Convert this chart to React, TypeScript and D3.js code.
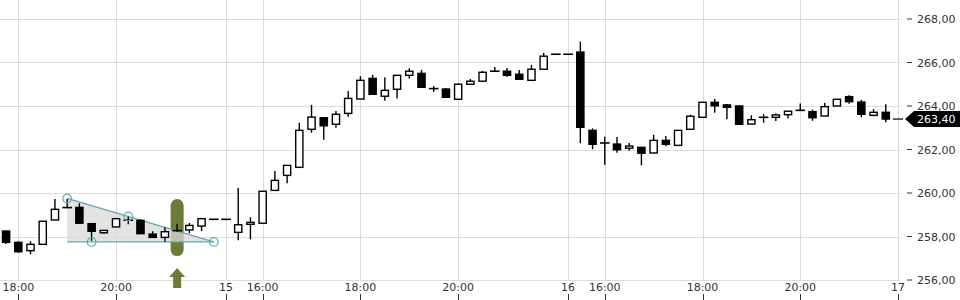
import React from "react";
import * as d3 from "d3";

// ---- data ----
const opens = [258.25,257.73,257.35,257.64,258.76,259.36,259.34,258.59,258.17,258.44,258.72,258.74,258.11,257.96,258.30,258.30,258.48,258.79,258.79,258.19,258.56,258.61,260.12,260.81,261.18,262.93,263.46,263.16,263.66,264.32,265.27,264.45,264.77,265.41,265.50,264.82,264.78,264.31,265.00,265.14,265.58,265.60,265.46,265.18,265.69,266.38,266.38,266.48,262.88,262.32,262.25,262.06,262.10,261.84,262.42,262.19,262.93,263.48,264.17,264.05,264.00,263.17,263.50,263.48,263.60,263.82,263.74,263.54,264.00,264.43,264.18,263.57,263.71];
const highs = [258.28,257.78,257.78,258.70,259.72,259.72,259.53,258.59,258.30,258.82,258.91,258.79,258.24,258.42,258.59,258.62,258.82,258.79,258.79,260.23,258.88,260.08,261.01,261.27,263.23,264.05,263.49,263.77,264.69,265.37,265.43,265.32,265.41,265.73,265.66,264.92,264.83,265.04,265.24,265.61,265.79,265.75,265.66,265.89,266.44,266.38,266.38,266.96,262.97,262.59,262.57,262.30,262.10,262.68,262.62,262.88,263.60,264.17,264.32,264.09,264.05,263.57,263.62,263.66,263.76,264.12,263.83,264.14,264.31,264.49,264.28,263.86,264.08];
const lows = [257.65,257.25,257.18,257.64,258.76,259.30,258.61,257.80,258.13,258.44,258.56,258.13,257.96,257.76,258.22,258.15,258.25,258.79,258.79,257.83,257.87,258.61,260.12,260.45,261.18,262.77,262.45,263.00,263.51,264.32,264.54,264.24,264.35,265.26,264.86,264.64,264.40,264.31,265.00,265.14,265.58,265.35,265.23,265.18,265.69,266.38,266.38,262.29,262.01,261.30,261.85,261.94,261.27,261.84,262.15,262.19,262.93,263.48,263.69,263.39,263.16,263.17,263.23,263.31,263.43,263.78,263.32,263.54,264.00,264.10,263.48,263.53,263.25];
const closes = [257.73,257.30,257.64,258.70,259.25,259.30,258.61,258.24,258.28,258.82,258.78,258.13,257.96,258.22,258.24,258.51,258.82,258.79,258.79,258.54,258.65,260.08,260.58,261.27,262.88,263.49,263.09,263.62,264.35,265.18,264.54,264.72,265.41,265.60,264.86,264.78,264.40,265.00,265.14,265.55,265.62,265.41,265.23,265.69,266.29,266.38,266.38,263.02,262.24,262.28,261.99,262.16,261.83,262.42,262.24,262.88,263.53,264.17,264.01,263.94,263.16,263.37,263.46,263.59,263.76,263.78,263.46,263.97,264.31,264.20,263.62,263.71,263.40];

const xTickIndex = [1, 9, 18, 21, 29, 37, 46, 49, 57, 65, 73];
const xTickLabels = ["18:00", "20:00", "15", "16:00", "18:00", "20:00", "16", "16:00", "18:00", "20:00", "17"];
const yTicks = [256, 258, 260, 262, 264, 266, 268];
const lastPrice = 263.40;

// triangle pattern (index, value)
const patternApex = [5, 259.75];
const patternEnd = [17, 257.75];
const patternBase = 257.75;
const patternCircles: [number, number][] = [[5, 259.75], [10, 258.92], [7, 257.75], [17, 257.75]];
const markerIndex = 14;
const markerRange = [257.1, 259.72];

const fmt = d3.formatLocale({ decimal: ",", thousands: ".", grouping: [3], currency: ["", "€"] }).format(".2f");

export default function App() {
  const W = 960, H = 300;
  const x = d3.scaleLinear().domain([0, 73]).range([6.08, 898]);
  const y = d3.scaleLinear().domain([256, 268]).range([280, 19]);
  const font = "'DejaVu Sans', Verdana, sans-serif";
  const green = "#6b7c39";
  const teal = "#5fa8b1";

  const ax = x(patternApex[0]), ay = y(patternApex[1]);
  const ex = x(patternEnd[0]), ey = y(patternEnd[1]);
  const by = y(patternBase);

  const mx = x(markerIndex);
  const mTop = y(markerRange[1]), mBot = y(markerRange[0]);
  const arrowTip = mBot + 12;

  const py = y(lastPrice);

  return (
    <svg width={W} height={H} style={{ position: "absolute", left: 0, top: 0, background: "#fff" }} fontFamily={font}>
      {/* grid */}
      {yTicks.map((t) => (
        <line key={"h" + t} x1={0} x2={900} y1={Math.round(y(t)) + 0.5} y2={Math.round(y(t)) + 0.5} stroke="#dcdcdc" strokeWidth={1} />
      ))}
      {xTickIndex.map((t, k) => (
        <line key={"v" + k} x1={Math.round(x(t)) + 0.5} x2={Math.round(x(t)) + 0.5} y1={0} y2={281} stroke="#dcdcdc" strokeWidth={1} />
      ))}

      {/* green marker */}
      <rect x={mx - 6.5} y={mTop} width={13} height={mBot - mTop} rx={6.5} ry={6.5} fill={green} />
      <path
        d={`M${mx},${arrowTip} L${mx + 8},${arrowTip + 9} L${mx + 4},${arrowTip + 9} L${mx + 4},${arrowTip + 20} L${mx - 4},${arrowTip + 20} L${mx - 4},${arrowTip + 9} L${mx - 8},${arrowTip + 9} Z`}
        fill={green}
      />

      {/* pattern */}
      <polygon points={`${ax},${ay} ${ex},${ey} ${ax},${by}`} fill="#d9d9d9" fillOpacity={0.75} />
      <line x1={ax} y1={ay} x2={ex} y2={ey} stroke={teal} strokeWidth={1.2} />
      <line x1={ax} y1={by} x2={ex} y2={by} stroke={teal} strokeWidth={1.2} />

      {/* candles */}
      {opens.map((o, i) => {
        const c = closes[i];
        const cx = x(i);
        const top = y(Math.max(o, c));
        const bot = y(Math.min(o, c));
        const up = c >= o;
        const h = bot - top;
        return (
          <g key={i}>
            <line x1={cx} x2={cx} y1={y(highs[i])} y2={y(lows[i])} stroke="#000" strokeWidth={1.4} />
            {h < 1.6 ? (
              <line x1={cx - 4.8} x2={cx + 4.8} y1={(top + bot) / 2} y2={(top + bot) / 2} stroke="#000" strokeWidth={1.6} />
            ) : (
              <rect x={cx - 3.6} y={top} width={7.2} height={h} fill={up ? "#fff" : "#000"} stroke="#000" strokeWidth={1.4} />
            )}
          </g>
        );
      })}

      {/* pattern circles */}
      {patternCircles.map(([i, v], k) => (
        <circle key={"c" + k} cx={x(i)} cy={y(v)} r={4.3} fill="none" stroke={teal} strokeWidth={1.2} />
      ))}

      {/* y axis */}
      {yTicks.map((t) => (
        <g key={"yt" + t}>
          <line x1={907} x2={912} y1={y(t)} y2={y(t)} stroke="#333" strokeWidth={1} />
          <text x={917} y={y(t) + 4} fontSize={11} fill="#333">{fmt(t)}</text>
        </g>
      ))}

      {/* x axis */}
      {xTickIndex.map((t, k) => (
        <g key={"xt" + k}>
          <line x1={Math.round(x(t)) + 0.5} x2={Math.round(x(t)) + 0.5} y1={294} y2={300} stroke="#333" strokeWidth={1} />
          <text x={x(t)} y={291} fontSize={11} fill="#333" textAnchor="middle">{xTickLabels[k]}</text>
        </g>
      ))}

      {/* last price */}
      <line x1={893} x2={903} y1={py} y2={py} stroke="#000" strokeWidth={1.2} />
      <polygon points={`905,${py} 914,${py - 8} 960,${py - 8} 960,${py + 8} 914,${py + 8}`} fill="#000" />
      <text x={917} y={py + 4} fontSize={11} fill="#fff">{fmt(lastPrice)}</text>
    </svg>
  );
}
